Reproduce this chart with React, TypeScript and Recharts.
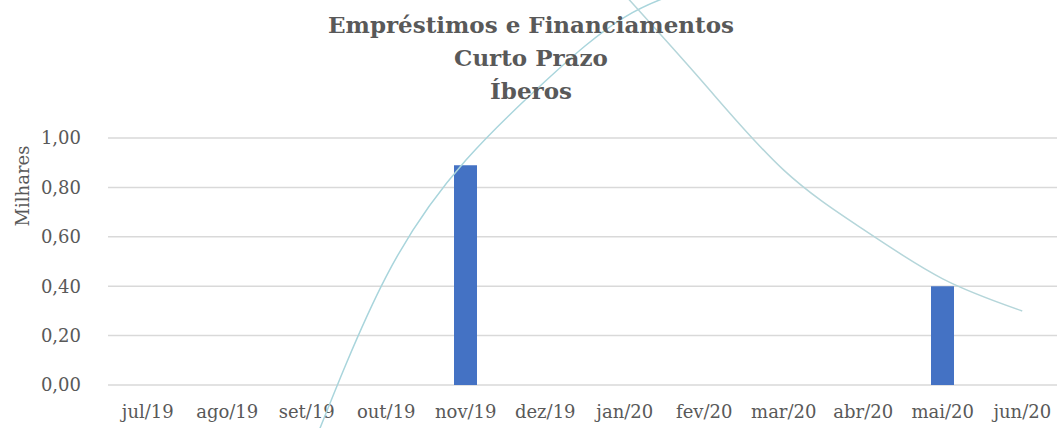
import React from 'react'
import { BarChart, Bar, LineChart, Line, XAxis, YAxis, CartesianGrid } from 'recharts'

const meses = ['jul/19', 'ago/19', 'set/19', 'out/19', 'nov/19', 'dez/19', 'jan/20', 'fev/20', 'mar/20', 'abr/20', 'mai/20', 'jun/20']
const valores = [0, 0, 0, 0, 0.89, 0, 0, 0, 0, 0, 0.4, 0]
// linhas de tendência (valores em milhares)
const tendenciaSubida = [null, null, -0.31, 0.44, 0.91, 1.23, 1.49, 1.62, null, null, null, null]
const tendenciaDescida = [null, null, null, null, null, null, 1.58, 1.22, 0.87, 0.63, 0.43, 0.3]
const yTicks = [0, 0.2, 0.4, 0.6, 0.8, 1]
const titulo = ['Empréstimos e Financiamentos', 'Curto Prazo', 'Íberos']

const data = meses.map((mes, i) => ({
    mes,
    valor: valores[i],
    subida: tendenciaSubida[i],
    descida: tendenciaDescida[i],
}))

const fonte = '"DejaVu Serif", serif'
const cinza = '#595959'
// meia largura de categoria, para alinhar os pontos da linha ao centro das barras
const meiaBanda = (1062 - 108) / meses.length / 2

export default function App() {
    return (
        <div style={{ position: 'fixed', left: 0, top: 0, width: 1057, height: 428, overflow: 'hidden', background: '#fff' }}>
            <div style={{ position: 'absolute', left: 0, top: 0 }}>
                <BarChart width={1070} height={428} data={data} margin={{ top: 138, right: 8, left: 0, bottom: 0 }}>
                    <CartesianGrid vertical={false} stroke="#d9d9d9" strokeWidth={1.5} />
                    <XAxis
                        dataKey="mes"
                        height={43}
                        axisLine={false}
                        tickLine={false}
                        tickMargin={14}
                        interval={0}
                        tick={{ fill: cinza, fontSize: 18, fontFamily: fonte }}
                    />
                    <YAxis
                        width={108}
                        domain={[0, 1]}
                        ticks={yTicks}
                        axisLine={false}
                        tickLine={false}
                        tickMargin={21}
                        tickFormatter={(v: number) => v.toFixed(2).replace('.', ',')}
                        tick={{ fill: cinza, fontSize: 18, fontFamily: fonte }}
                    />
                    <Bar dataKey="valor" fill="#4472c4" barSize={23} isAnimationActive={false} />
                </BarChart>
            </div>
            <div style={{ position: 'absolute', left: 0, top: 0 }}>
                <LineChart width={1070} height={428} data={data} margin={{ top: 0, right: 8, left: 108, bottom: 0 }}>
                    <XAxis dataKey="mes" hide padding={{ left: meiaBanda, right: meiaBanda }} />
                    <YAxis hide domain={[-0.174, 1.559]} allowDataOverflow />
                    <Line
                        type="natural"
                        dataKey="subida"
                        stroke="#a9d5dc"
                        strokeWidth={1.5}
                        dot={false}
                        isAnimationActive={false}
                    />
                    <Line
                        type="natural"
                        dataKey="descida"
                        stroke="#b5d6da"
                        strokeWidth={1.5}
                        dot={false}
                        isAnimationActive={false}
                    />
                </LineChart>
            </div>
            <div
                style={{
                    position: 'absolute',
                    left: 0,
                    top: 8,
                    width: 1062,
                    textAlign: 'center',
                    fontFamily: fonte,
                    fontWeight: 'bold',
                    fontSize: 23,
                    lineHeight: '33px',
                    color: cinza,
                }}
            >
                {titulo.map((t) => (
                    <div key={t}>{t}</div>
                ))}
            </div>
            <div
                style={{
                    position: 'absolute',
                    left: 22,
                    top: 186,
                    transform: 'translate(-50%, -50%) rotate(-90deg)',
                    fontFamily: fonte,
                    fontSize: 18,
                    color: cinza,
                    whiteSpace: 'nowrap',
                }}
            >
                Milhares
            </div>
        </div>
    )
}
